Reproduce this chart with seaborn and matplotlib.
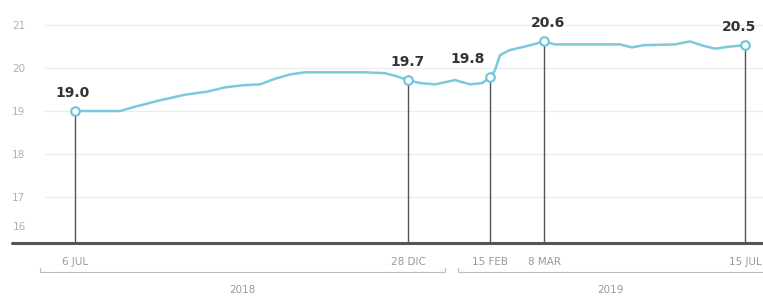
import matplotlib
matplotlib.use("Agg")
import matplotlib.pyplot as plt
import matplotlib.transforms as mtransforms
import seaborn as sns
import pandas as pd

# position along the time axis (chart units) and price
posicion = [0, 45, 60, 85, 95, 110, 132, 150, 168, 185, 200, 215, 230, 260,
            290, 310, 320, 333, 345, 360, 372, 380, 395, 407, 415, 420, 425,
            435, 450, 460, 469, 480, 520, 545, 557, 568, 600, 615, 628, 640,
            655, 670]
precio = [19.0, 19.0, 19.1, 19.25, 19.3, 19.38, 19.45, 19.55, 19.6, 19.62,
          19.75, 19.85, 19.9, 19.9, 19.9, 19.88, 19.82, 19.72, 19.65, 19.62,
          19.68, 19.72, 19.62, 19.65, 19.78, 19.95, 20.3, 20.42, 20.5, 20.56,
          20.62, 20.55, 20.55, 20.55, 20.48, 20.53, 20.55, 20.62, 20.52,
          20.45, 20.5, 20.53]

hitos_pos = [0, 333, 415, 469, 670]
hitos_val = [19.0, 19.72, 19.78, 20.62, 20.53]
hitos_txt = ["19.0", "19.7", "19.8", "20.6", "20.5"]
fechas = ["6 JUL", "28 DIC", "15 FEB", "8 MAR", "15 JUL"]
y_ticks = [17, 18, 19, 20, 21]
anios = ["2018", "2019"]
anio_rango = [(-35, 370), (383, 688)]

df = pd.DataFrame({"pos": posicion, "precio": precio})
hitos = pd.DataFrame({"pos": hitos_pos, "precio": hitos_val})

sns.set_style("white")
plt.rcParams["font.family"] = ["DejaVu Sans"]

fig = plt.figure(figsize=(7.63, 3.0), dpi=100)
ax = fig.add_axes([45 / 763, 57 / 300, 718 / 763, 233 / 300])

ax.set_xlim(-30, 688)
ax.set_ylim(15.93, 21.35)

ax.set_yticks(y_ticks)
ax.set_yticklabels([str(t) for t in y_ticks])
ax.grid(axis="y", color="#ececec", linewidth=0.8)
ax.tick_params(axis="y", length=0, pad=14, labelsize=7.5, labelcolor="#b0b0b0")
ax.text(-0.027, 0.07, "16", transform=ax.transAxes, ha="right", va="center",
        fontsize=7.5, color="#b0b0b0")

ax.vlines(hitos["pos"], 15.93, hitos["precio"], color="#555555", linewidth=1,
          zorder=2)

sns.lineplot(data=df, x="pos", y="precio", ax=ax, color="#7cc8dc",
             linewidth=1.8, zorder=3)
sns.scatterplot(data=hitos, x="pos", y="precio", ax=ax, s=38,
                facecolor="white", edgecolor="#6cc4dc", linewidth=1.5,
                zorder=4)

offsets = [(-2, 8), (0, 8), (-16, 8), (3, 8), (-4, 8)]
for p, v, t, off in zip(hitos_pos, hitos_val, hitos_txt, offsets):
    ax.annotate(t, (p, v), xytext=off, textcoords="offset points",
                ha="center", va="bottom", fontsize=10, fontweight="bold",
                color="#333333", annotation_clip=False)

ax.set_xticks(hitos_pos)
ax.set_xticklabels(fechas)
ax.tick_params(axis="x", length=0, pad=10, labelsize=7.5, labelcolor="#9a9a9a")
ax.set_xlabel("")
ax.set_ylabel("")

for s in ["top", "right", "left", "bottom"]:
    ax.spines[s].set_visible(False)
ax.axhline(15.93, xmin=-33 / 718, xmax=1, color="#555555", linewidth=2.2,
           clip_on=False, zorder=5)

trans = mtransforms.blended_transform_factory(ax.transData, ax.transAxes)
for nombre, (a, b) in zip(anios, anio_rango):
    ax.plot([a, a, b, b], [-0.107, -0.124, -0.124, -0.107], transform=trans,
            color="#bdbdbd", linewidth=0.8, clip_on=False)
    ax.text((a + b) / 2, -0.20, nombre, transform=trans, ha="center",
            va="center", fontsize=7.5, color="#9a9a9a")

fig.savefig("out.png", dpi=100)
